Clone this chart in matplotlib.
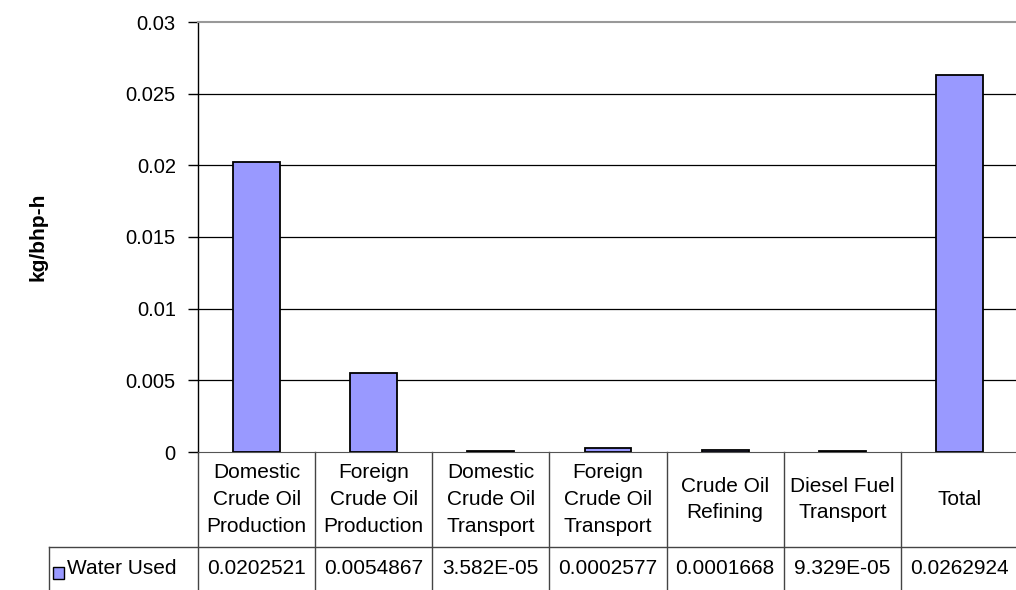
import numpy as np
import matplotlib.pyplot as plt
import matplotlib.transforms as mtransforms
from matplotlib.patches import Rectangle

plt.rcParams['font.family'] = ['Liberation Sans', 'DejaVu Sans']

# water use per stage of the diesel fuel chain
categories = ["Domestic\nCrude Oil\nProduction", "Foreign\nCrude Oil\nProduction",
              "Domestic\nCrude Oil\nTransport", "Foreign\nCrude Oil\nTransport",
              "Crude Oil\nRefining", "Diesel Fuel\nTransport", "Total"]
water_used = [0.0202521, 0.0054867, 3.582E-05, 0.0002577, 0.0001668, 9.329E-05, 0.0262924]
value_labels = ["0.0202521", "0.0054867", "3.582E-05", "0.0002577",
                "0.0001668", "9.329E-05", "0.0262924"]
series_name = "Water Used"
yticks = [0, 0.005, 0.01, 0.015, 0.02, 0.025, 0.03]
ytick_labels = ["0", "0.005", "0.01", "0.015", "0.02", "0.025", "0.03"]

W, H = 1016, 590
fig = plt.figure(figsize=(W / 100, H / 100), dpi=100)
ax = fig.add_axes([198 / W, (H - 452) / H, 820 / W, 430 / H])

bar_color = "#9999FF"
x = np.arange(len(categories))
ax.bar(x, water_used, width=0.4, color=bar_color, edgecolor="black", linewidth=1.3, zorder=3)

ax.set_xlim(-0.5, len(categories) - 0.5)
ax.set_ylim(0, 0.03)
ax.set_yticks(yticks)
ax.set_yticklabels(ytick_labels, fontsize=14.5)
ax.set_xticks([])
ax.tick_params(axis="y", direction="out", length=7, width=1, pad=9)
for y in yticks[1:-1]:
    ax.axhline(y, color="black", linewidth=0.9, zorder=1)

ax.spines["right"].set_visible(False)
ax.spines["top"].set_color("#999999")
ax.spines["top"].set_linewidth(1.5)
ax.spines["left"].set_color("black")
ax.spines["bottom"].set_color("#555555")
ax.spines["left"].set_linewidth(1)

ax.set_ylabel("kg/bhp-h", fontsize=15, fontweight="bold", labelpad=56)

# data table under the axis
trans = mtransforms.blended_transform_factory(ax.transData, ax.transAxes)
row1 = -95 / 430
row2 = -140 / 430
line_kw = dict(color="#444444", linewidth=1, clip_on=False)
for i in range(len(categories) + 1):
    ax.plot([i - 0.5, i - 0.5], [0, row2], transform=trans, **line_kw)
ax.plot([-149 / 818, 1.01], [row1, row1], transform=ax.transAxes, **line_kw)
ax.plot([-149 / 818, -149 / 818], [row1, row2], transform=ax.transAxes, **line_kw)

for i, (cat, lab) in enumerate(zip(categories, value_labels)):
    ax.text(i, row1 / 2, cat, transform=trans, ha="center", va="center",
            fontsize=15, linespacing=1.5)
    ax.text(i, -117 / 430, lab, transform=trans, ha="center", va="center", fontsize=15)

ax.add_patch(Rectangle((-145 / 818, -127 / 430), 11 / 818, 12 / 430, transform=ax.transAxes,
                       facecolor=bar_color, edgecolor="black", linewidth=1, clip_on=False))
ax.text(-131 / 818, -117 / 430, series_name, transform=ax.transAxes, ha="left", va="center",
        fontsize=15)

fig.savefig("out.png", dpi=100)
